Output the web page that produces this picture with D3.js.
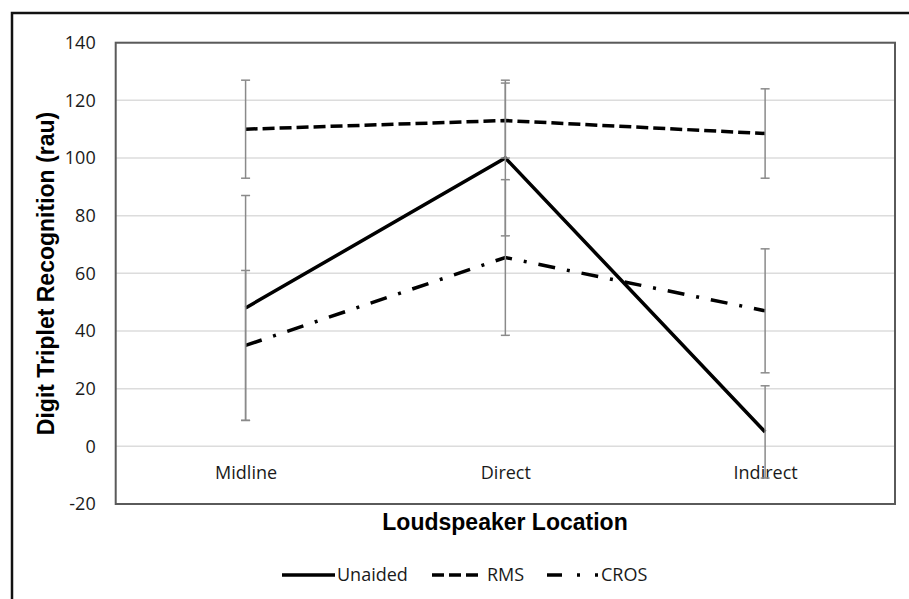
<!DOCTYPE html>
<html><head><meta http-equiv="Content-Type" content="text/html; charset=utf-8">
    <script src="https://d3js.org/d3.v7.min.js"></script>
    <style>
        body { margin: 0; background: #fff; }
    </style>
    </head>

    <body>

        <div class="chart-div"></div>

        <script type="text/javascript">

            // ------------------ DATA -----------------------------------

            var categories = ["Midline", "Direct", "Indirect"];

            var unaided    = [48, 100, 5];
            var unaidedErr = [39, 27, 16];

            var rms        = [110, 113, 108.5];
            var rmsErr     = [17, 13, 15.5];

            var cros       = [35, 65.5, 47];
            var crosErr    = [26, 27, 21.5];

            var yTicks = [-20, 0, 20, 40, 60, 80, 100, 120, 140];

            var seriesNames = ["Unaided", "RMS", "CROS"];

            // ------------------ SETUP ----------------------------------

            var width = 909;
            var height = 599;

            var svg = d3.select("div.chart-div")
            .append("svg")
            .attr("width", width)
            .attr("height", height)

            var plotLeft = 115.7, plotRight = 895, plotTop = 42.7, plotBottom = 504;

            var x = d3.scalePoint()
            .domain(categories)
            .range([plotLeft, plotRight])
            .padding(0.5);

            var y = d3.scaleLinear()
            .domain([-20, 140])
            .range([plotBottom, plotTop]);

            // outer frame (only left and top visible)
            svg.append("rect")
                .attr("x", 12).attr("y", 13)
                .attr("width", 1200).attr("height", 1200)
                .style("fill", "none")
                .style("stroke", "#111")
                .style("stroke-width", 2.5);

            // ------------------ GRID + AXES ----------------------------

            svg.append("g")
                .selectAll("line")
                .data(yTicks)
                .enter()
                .append("line")
                .attr("x1", plotLeft).attr("x2", plotRight)
                .attr("y1", function(d){ return y(d); })
                .attr("y2", function(d){ return y(d); })
                .style("stroke", "#dcdcdc")
                .style("stroke-width", 1.5);

            var yAxis = svg.append("g")
                .attr("transform", "translate(" + plotLeft + ",0)")
                .call(d3.axisLeft(y).tickValues(yTicks).tickSize(0).tickPadding(20)
                      .tickFormat(function(d){ return String(d); }));
            yAxis.select(".domain").remove();
            yAxis.selectAll("text")
                .style("font-family", "'Open Sans', sans-serif")
                .style("font-size", "18px")
                .style("fill", "#1a1a1a");

            var xAxis = svg.append("g")
                .attr("transform", "translate(0," + 473 + ")")
                .call(d3.axisBottom(x).tickSize(0).tickPadding(0));
            xAxis.select(".domain").remove();
            xAxis.selectAll("text")
                .attr("dy", "0.32em")
                .style("font-family", "'Open Sans', sans-serif")
                .style("font-size", "18px")
                .style("fill", "#1a1a1a");

            svg.append("rect")
                .attr("x", plotLeft).attr("y", plotTop)
                .attr("width", plotRight - plotLeft)
                .attr("height", plotBottom - plotTop)
                .style("fill", "none")
                .style("stroke", "#5a5a5a")
                .style("stroke-width", 2);

            // titles
            svg.append("text")
                .attr("transform", "translate(46," + 273.5 + ")rotate(-90)")
                .attr("text-anchor", "middle")
                .attr("dy", "0.35em")
                .style("font-family", "'Liberation Sans', Arial, sans-serif")
                .style("font-weight", "bold")
                .style("font-size", "23px")
                .text("Digit Triplet Recognition (rau)");

            svg.append("text")
                .attr("x", 505).attr("y", 522)
                .attr("text-anchor", "middle")
                .attr("dy", "0.35em")
                .style("font-family", "'Liberation Sans', Arial, sans-serif")
                .style("font-weight", "bold")
                .style("font-size", "23px")
                .text("Loudspeaker Location");

            // ------------------ SERIES ---------------------------------

            var series = [
                { name: seriesNames[0], values: unaided, err: unaidedErr, dash: null },
                { name: seriesNames[1], values: rms,     err: rmsErr,     dash: "12,5" },
                { name: seriesNames[2], values: cros,    err: crosErr,    dash: "17,12,3,12" }
            ];

            var line = d3.line()
            .x(function(d, i){ return x(categories[i]); })
            .y(function(d){ return y(d); });

            svg.append("g")
                .selectAll("path")
                .data(series)
                .enter()
                .append("path")
                .attr("d", function(s){ return line(s.values); })
                .style("fill", "none")
                .style("stroke", "#000")
                .style("stroke-width", 3.5)
                .style("stroke-dasharray", function(s){ return s.dash; });

            // error bars
            var bars = [];
            series.forEach(function(s){
                s.values.forEach(function(v, i){
                    bars.push({ cat: categories[i], hi: v + s.err[i], lo: v - s.err[i] });
                });
            });

            var eb = svg.append("g")
                .style("stroke", "#8a8a8a")
                .style("stroke-width", 1.5);

            eb.selectAll("line.v")
                .data(bars)
                .enter()
                .append("line")
                .attr("class", "v")
                .attr("x1", function(d){ return x(d.cat); })
                .attr("x2", function(d){ return x(d.cat); })
                .attr("y1", function(d){ return y(d.hi); })
                .attr("y2", function(d){ return y(d.lo); });

            ["hi", "lo"].forEach(function(k){
                eb.selectAll("line.cap-" + k)
                    .data(bars)
                    .enter()
                    .append("line")
                    .attr("class", "cap-" + k)
                    .attr("x1", function(d){ return x(d.cat) - 4.5; })
                    .attr("x2", function(d){ return x(d.cat) + 4.5; })
                    .attr("y1", function(d){ return y(d[k]); })
                    .attr("y2", function(d){ return y(d[k]); });
            });

            // ------------------ LEGEND ---------------------------------

            var legendItems = [
                { name: seriesNames[0], x: 282, len: 53, dash: null },
                { name: seriesNames[1], x: 432, len: 46, dash: "12,5" },
                { name: seriesNames[2], x: 547, len: 52, dash: "15,15,3,15,3" }
            ];

            var legend = svg.append("g")
                .attr("transform", "translate(0,575)");

            var li = legend.selectAll("g")
                .data(legendItems)
                .enter()
                .append("g")
                .attr("transform", function(d){ return "translate(" + d.x + ",0)"; });

            li.append("line")
                .attr("x1", 0).attr("x2", function(d){ return d.len; })
                .style("stroke", "#000")
                .style("stroke-width", 3.5)
                .style("stroke-dasharray", function(d){ return d.dash; });

            li.append("text")
                .attr("x", function(d){ return d.name === "RMS" ? d.len + 9 : d.len + 2; })
                .attr("dy", "0.35em")
                .style("font-family", "'Open Sans', sans-serif")
                .style("font-size", "18px")
                .style("fill", "#1a1a1a")
                .text(function(d){ return d.name; });

        </script>

    </body></html>
